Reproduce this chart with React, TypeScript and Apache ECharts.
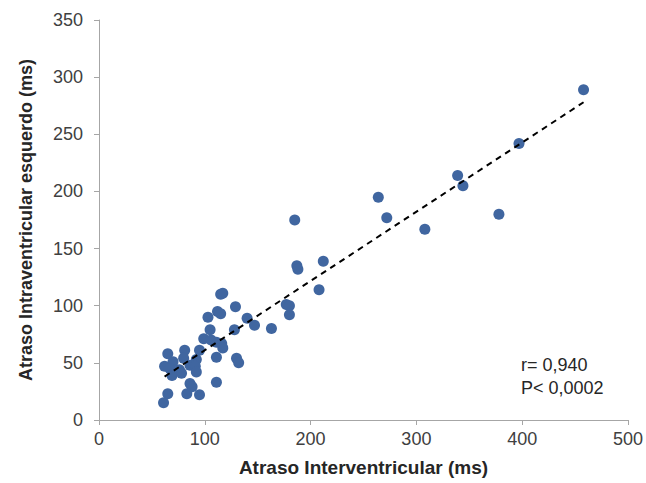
import React, { useEffect, useRef } from "react";
import * as echarts from "echarts";

const xValues = [458, 397, 339, 344, 378, 308, 272, 264, 185, 187, 188, 212, 208, 177, 180, 180, 115, 117, 129, 103, 112, 115, 140, 147, 163, 128, 105, 99, 106, 111, 116, 117, 95, 111, 81, 65, 130, 132, 92, 80, 70, 62, 67, 76, 86, 91, 92, 69, 78, 111, 86, 88, 83, 95, 65, 61];
const yValues = [289, 242, 214, 205, 180, 167, 177, 195, 175, 135, 132, 139, 114, 101, 100, 92, 110, 111, 99, 90, 95, 93, 89, 83, 80, 79, 79, 71, 70, 68, 67, 63, 61, 55, 61, 58, 54, 50, 53, 54, 51, 47, 45, 44, 48, 47, 42, 39, 41, 33, 32, 29, 23, 22, 23, 15];
const trendX = [62, 458];
const trendY = [38, 278];
const statsText = ["r= 0,940", "P< 0,0002"];
const xTitle = "Atraso Interventricular (ms)";
const yTitle = "Atraso Intraventricular esquerdo (ms)";

export default function App() {
  const ref = useRef<HTMLDivElement>(null);
  useEffect(() => {
    if (!ref.current) return;
    const chart = echarts.init(ref.current, null, { renderer: "svg" });
    const font = "Liberation Sans, Arial, sans-serif";
    const axisCommon = {
      axisLine: { show: true, lineStyle: { color: "#a6a6a6", width: 1 } },
      axisTick: { show: true, length: 5, lineStyle: { color: "#a6a6a6" } },
      splitLine: { show: false },
      nameLocation: "middle" as const,
    };
    chart.setOption({
      animation: false,
      grid: { left: 99, right: 18, top: 20, bottom: 63, containLabel: false },
      xAxis: {
        ...axisCommon,
        type: "value",
        min: 0,
        max: 500,
        interval: 100,
        name: xTitle,
        nameGap: 38,
        nameTextStyle: { color: "#262626", fontSize: 19, fontWeight: "bold", fontFamily: font },
        axisLabel: { color: "#404040", fontSize: 18, fontFamily: font, margin: 10 },
      },
      yAxis: {
        ...axisCommon,
        type: "value",
        min: 0,
        max: 350,
        interval: 50,
        name: yTitle,
        nameGap: 64,
        nameTextStyle: { color: "#262626", fontSize: 18, fontWeight: "bold", fontFamily: font },
        axisLabel: { color: "#404040", fontSize: 18, fontFamily: font, margin: 16 },
      },
      series: [
        {
          type: "scatter",
          data: xValues.map((x, i) => [x, yValues[i]]),
          symbolSize: 11,
          itemStyle: { color: "#4066a0", opacity: 1 },
          z: 3,
        },
        {
          type: "line",
          data: trendX.map((x, i) => [x, trendY[i]]),
          symbol: "none",
          lineStyle: { color: "#000", width: 2, type: [6, 5] },
          z: 4,
        },
      ],
      graphic: [
        {
          type: "text",
          left: 521,
          top: 353,
          style: { text: statsText.join("\n"), fontSize: 18, lineHeight: 23, fill: "#262626", fontFamily: font },
        },
      ],
    });
    return () => chart.dispose();
  }, []);
  return <div ref={ref} style={{ position: "absolute", left: 0, top: 0, width: 646, height: 483 }} />;
}
